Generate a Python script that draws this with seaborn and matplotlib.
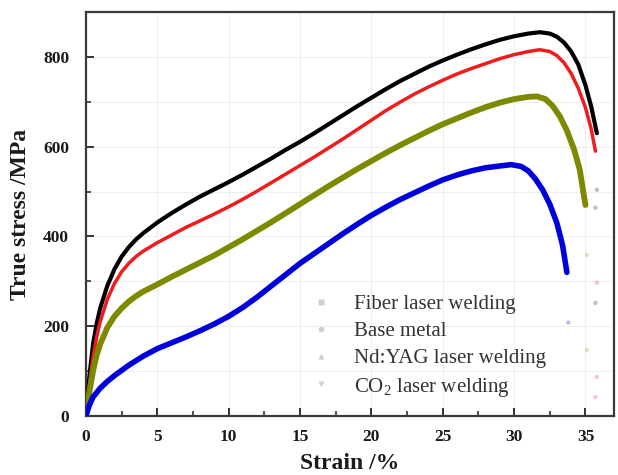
import numpy as np
import pandas as pd
import seaborn as sns
import matplotlib
matplotlib.use("Agg")
import matplotlib.pyplot as plt
from matplotlib.lines import Line2D
from matplotlib.ticker import MultipleLocator

# ---- data: true stress (MPa) vs strain (%) ----
fiber_strain = [0, 0.25, 0.5, 0.75, 1, 1.5, 2, 2.5, 3, 3.5, 4, 5, 6, 7, 8, 9, 10, 11, 12, 13, 14,
                15, 16, 17, 18, 19, 20, 21, 22, 23, 24, 25, 26, 27, 28, 29, 30, 31, 31.8, 32.5,
                33, 33.5, 34, 34.5, 35, 35.4, 35.8]
fiber_stress = [0, 90, 160, 205, 240, 290, 327, 355, 376, 393, 407, 431, 452, 471, 489, 505, 521,
                538, 556, 574, 593, 611, 630, 650, 670, 690, 709, 728, 746, 762, 778, 792, 805,
                817, 828, 838, 846, 852, 855, 852, 845, 832, 812, 783, 737, 690, 630]

base_strain = [0, 0.25, 0.5, 0.75, 1, 1.5, 2, 2.5, 3, 3.5, 4, 5, 6, 7, 8, 9, 10, 11, 12, 13, 14,
               15, 16, 17, 18, 19, 20, 21, 22, 23, 24, 25, 26, 27, 28, 29, 30, 31, 31.8, 32.5,
               33, 33.5, 34, 34.5, 35, 35.4, 35.7]
base_stress = [0, 70, 130, 175, 210, 260, 295, 321, 340, 355, 367, 386, 403, 420, 435, 450, 466,
               483, 501, 520, 539, 558, 577, 597, 617, 638, 659, 680, 699, 717, 733, 748, 762,
               774, 785, 796, 805, 812, 816, 812, 803, 787, 763, 730, 687, 640, 590]

ndyag_strain = [0, 0.25, 0.5, 0.75, 1, 1.5, 2, 2.5, 3, 3.5, 4, 5, 6, 7, 8, 9, 10, 11, 12, 13, 14,
                15, 16, 17, 18, 19, 20, 21, 22, 23, 24, 25, 26, 27, 28, 29, 30, 31, 31.6, 32.2,
                32.7, 33.2, 33.7, 34.2, 34.6, 35]
ndyag_stress = [0, 55, 100, 135, 160, 197, 222, 240, 255, 267, 277, 293, 310, 326, 342, 358, 376,
                394, 413, 432, 452, 472, 492, 512, 531, 550, 568, 586, 603, 619, 635, 650, 663,
                676, 688, 698, 706, 711, 712, 706, 691, 668, 636, 594, 549, 470]

co2_strain = [0, 0.25, 0.5, 1, 1.5, 2, 3, 4, 5, 6, 7, 8, 9, 10, 11, 12, 13, 14, 15, 16, 17, 18,
              19, 20, 21, 22, 23, 24, 25, 26, 27, 28, 29, 29.8, 30.5, 31, 31.5, 32, 32.5, 33,
              33.4, 33.7]
co2_stress = [0, 25, 42, 62, 77, 90, 113, 133, 150, 163, 176, 190, 205, 222, 242, 265, 290, 315,
              340, 362, 384, 406, 427, 447, 465, 482, 497, 512, 526, 537, 546, 553, 557, 560,
              556, 546, 528, 504, 472, 430, 380, 320]

# sparse points recorded during the final drop at fracture
tail_strain = [35.8, 35.8, 35.8, 35.7, 35.7, 35.7, 35.1, 35.1, 33.8]
tail_stress = [504, 297, 87, 464, 252, 42, 359, 147, 208]
tail_series = ["Fiber", "Base", "Base", "Fiber", "Fiber", "Base", "NdYAG", "NdYAG", "CO2"]

labels = ["Fiber laser welding", "Base metal", "Nd:YAG laser welding", "CO$_2$ laser welding"]
colors = ["#000000", "#ee1c1c", "#7d8a00", "#0000dd"]
widths = [3.0, 2.5, 4.2, 4.0]

x_ticks = [0, 5, 10, 15, 20, 25, 30, 35]
y_ticks = [0, 200, 400, 600, 800]

frames = []
for name, xs, ys in [("Fiber", fiber_strain, fiber_stress), ("Base", base_strain, base_stress),
                     ("NdYAG", ndyag_strain, ndyag_stress), ("CO2", co2_strain, co2_stress)]:
    frames.append(pd.DataFrame({"strain": xs, "stress": ys, "series": name}))
df = pd.concat(frames, ignore_index=True)
tails = pd.DataFrame({"strain": tail_strain, "stress": tail_stress, "series": tail_series})

sns.set_theme(style="white")
plt.rcParams["font.family"] = ["Liberation Serif", "DejaVu Serif"]
plt.rcParams["mathtext.fontset"] = "custom"
plt.rcParams["mathtext.rm"] = "Liberation Serif"

fig = plt.figure(figsize=(6.18, 4.75), dpi=100)
ax = fig.add_axes([0.139, 0.1242, 0.8545, 0.8505])

order = ["Fiber", "Base", "NdYAG", "CO2"]
palette = dict(zip(order, colors))
for name, lw in zip(order, widths):
    sub = df[df["series"] == name]
    sns.lineplot(data=sub, x="strain", y="stress", color=palette[name], linewidth=lw,
                 sort=False, estimator=None, ax=ax, legend=False, zorder=3,
                 solid_capstyle="round", solid_joinstyle="round")

sns.scatterplot(data=tails, x="strain", y="stress", hue="series", palette=palette,
                s=10, alpha=0.25, linewidth=0, ax=ax, legend=False, zorder=2)

ax.set_xlim(0, 37)
ax.set_ylim(0, 900)
ax.set_xticks(x_ticks)
ax.set_yticks(y_ticks)
ax.xaxis.set_minor_locator(MultipleLocator(2.5))
ax.yaxis.set_minor_locator(MultipleLocator(100))
ax.grid(True, which="major", axis="x", color="#efefef", linewidth=0.8, zorder=0)
ax.grid(True, which="both", axis="y", color="#efefef", linewidth=0.8, zorder=0)
ax.set_axisbelow(True)

ax.tick_params(axis="both", which="major", direction="in", length=6, width=1.4,
               color="#333333", labelsize=12.5, bottom=True, left=True,
               top=False, right=False)
ax.tick_params(axis="x", which="major", pad=9)
ax.tick_params(axis="y", which="major", pad=12)
ax.tick_params(axis="both", which="minor", direction="in", length=3.5, width=1.2,
               color="#333333", bottom=True, left=True, top=False, right=False)
for lab in ax.get_xticklabels() + ax.get_yticklabels():
    lab.set_fontweight("bold")
    lab.set_color("#1a1a1a")

for sp in ax.spines.values():
    sp.set_visible(True)
    sp.set_color("#3a3a3a")
    sp.set_linewidth(1.6)

ax.set_xlabel("Strain /%", fontsize=17, fontweight="bold", color="#1a1a1a", labelpad=6)
ax.set_ylabel("True stress /MPa", fontsize=17, fontweight="bold", color="#1a1a1a", labelpad=9)

markers = ["s", "o", "^", "v"]
handles = [Line2D([], [], linestyle="none", marker=m, markersize=4,
                  markerfacecolor="#b0b0b0", markeredgecolor="none", alpha=0.6)
           for m in markers]
leg = ax.legend(handles, labels, loc="upper left", bbox_to_anchor=(0.41, 0.322),
                frameon=False, fontsize=15, handletextpad=1.1, labelspacing=0.36,
                handlelength=1.0, borderaxespad=0)
for t in leg.get_texts():
    t.set_color("#333333")

fig.savefig("out.png", dpi=100)
